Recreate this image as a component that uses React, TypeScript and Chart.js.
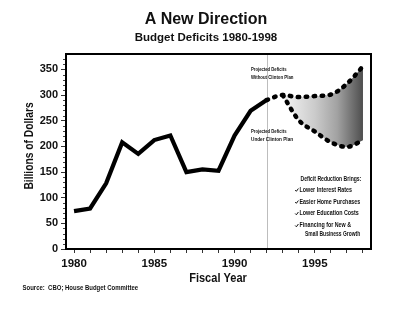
import React, { useEffect, useRef } from "react";
import { Chart, registerables } from "chart.js";

Chart.register(...registerables);

// Federal budget deficits, billions of dollars
const actualYears = [1980, 1981, 1982, 1983, 1984, 1985, 1986, 1987, 1988, 1989, 1990, 1991, 1992];
const actualDeficits = [73.8, 79.0, 128.0, 207.8, 185.4, 212.3, 221.2, 149.7, 155.2, 152.5, 221.0, 269.2, 290.4];

const withoutPlanYears = [1992, 1993, 1994, 1995, 1996, 1997, 1998];
const withoutPlanDeficits = [290.4, 300, 296, 298, 301, 322, 356];

const underPlanYears = [1993, 1994, 1995, 1996, 1997, 1998];
const underPlanDeficits = [300, 251, 229, 208, 199, 212];

const yTickValues = [0, 50, 100, 150, 200, 250, 300, 350];
const xTickYears = [1980, 1981, 1982, 1983, 1984, 1985, 1986, 1987, 1988, 1989, 1990, 1991, 1992, 1993, 1994, 1995, 1996, 1997, 1998];

const benefitsHeading = "Deficit Reduction Brings:";
const benefits = ["Lower Interest Rates", "Easier Home Purchases", "Lower Education Costs", "Financing for New &"];
const benefitsContinuation = "Small Business Growth";

const SANS = "Arial, 'Liberation Sans', Helvetica, sans-serif";

function drawText(
  ctx: CanvasRenderingContext2D,
  text: string,
  x: number,
  y: number,
  size: number,
  squeeze = 1,
  align: CanvasTextAlign = "left",
  rotate = 0
) {
  ctx.save();
  ctx.font = `bold ${size}px ${SANS}`;
  ctx.fillStyle = "#111";
  ctx.textBaseline = "middle";
  ctx.textAlign = align;
  ctx.translate(x, y);
  if (rotate) ctx.rotate(rotate);
  ctx.scale(squeeze, 1);
  ctx.fillText(text, 0, 0);
  ctx.restore();
}

const decorations = {
  id: "decorations",
  beforeDatasetsDraw(chart: any) {
    const { ctx, chartArea, scales } = chart;
    const x = scales.x.getPixelForValue(1992);
    ctx.save();
    ctx.strokeStyle = "#bdbdbd";
    ctx.lineWidth = 1;
    ctx.beginPath();
    ctx.moveTo(Math.round(x) + 0.5, chartArea.top);
    ctx.lineTo(Math.round(x) + 0.5, chartArea.bottom);
    ctx.stroke();
    ctx.restore();
  },
  afterDraw(chart: any) {
    const { ctx, chartArea, scales } = chart;
    const { left, top, right, bottom } = chartArea;

    // minor ticks on the value axis
    ctx.save();
    ctx.strokeStyle = "#444";
    ctx.lineWidth = 1;
    for (let v = 10; v <= 370; v += 10) {
      if (v % 50 === 0) continue;
      const y = Math.round(scales.y.getPixelForValue(v)) + 0.5;
      ctx.beginPath();
      ctx.moveTo(left - 3, y);
      ctx.lineTo(left, y);
      ctx.stroke();
    }
    ctx.restore();

    // plot frame
    ctx.save();
    ctx.strokeStyle = "#000";
    ctx.lineWidth = 2;
    ctx.strokeRect(left, top, right - left, bottom - top);
    ctx.restore();

    // headings
    drawText(ctx, "A New Direction", 206, 20, 16, 1, "center");
    drawText(ctx, "Budget Deficits 1980-1998", 206, 38, 11.5, 1, "center");

    // axis titles
    drawText(ctx, "Billions of Dollars", 29, 146, 13.5, 0.76, "center", -Math.PI / 2);
    drawText(ctx, "Fiscal Year", 218, 278, 13, 0.85, "center");

    // source note
    drawText(ctx, "Source:  CBO; House Budget Committee", 22.5, 288.5, 6.3, 0.95, "left");

    // projection labels
    drawText(ctx, "Projected Deficits", 251, 69, 6, 0.7);
    drawText(ctx, "Without Clinton Plan", 251, 77.5, 6, 0.72);
    drawText(ctx, "Projected Deficits", 251, 131.5, 6, 0.7);
    drawText(ctx, "Under Clinton Plan", 251, 139.5, 6, 0.78);

    // benefits list
    drawText(ctx, benefitsHeading, 300.5, 179, 6.5, 0.78);
    const rows = [190, 202, 213.5, 225.5];
    benefits.forEach((item, i) => {
      ctx.save();
      ctx.strokeStyle = "#111";
      ctx.lineWidth = 1;
      ctx.beginPath();
      ctx.moveTo(295.2, rows[i]);
      ctx.lineTo(296.4, rows[i] + 1.3);
      ctx.lineTo(298.4, rows[i] - 1.5);
      ctx.stroke();
      ctx.restore();
      drawText(ctx, item, 299.5, rows[i], 6.5, 0.82);
    });
    drawText(ctx, benefitsContinuation, 305, 234, 6.5, 0.76);
  },
};

export default function App() {
  const canvasRef = useRef<HTMLCanvasElement | null>(null);

  useEffect(() => {
    const canvas = canvasRef.current;
    if (!canvas) return;

    const shade = (context: any) => {
      const { chart } = context;
      const area = chart.chartArea;
      if (!area) return "#999";
      const x0 = chart.scales.x.getPixelForValue(1993.4);
      const x1 = chart.scales.x.getPixelForValue(1998);
      const g = chart.ctx.createLinearGradient(x0, 0, x1, 0);
      g.addColorStop(0, "#ececec");
      g.addColorStop(0.35, "#cbcbcb");
      g.addColorStop(0.65, "#a2a2a2");
      g.addColorStop(0.85, "#727272");
      g.addColorStop(1, "#4e4e4e");
      return g;
    };

    const chart = new Chart(canvas, {
      type: "line",
      data: {
        datasets: [
          {
            label: "Actual",
            data: actualYears.map((x, i) => ({ x, y: actualDeficits[i] })),
            borderColor: "#000",
            borderWidth: 4.2,
            borderJoinStyle: "miter",
            pointRadius: 0,
            fill: false,
            tension: 0,
          },
          {
            label: "Without Clinton Plan",
            data: withoutPlanYears.map((x, i) => ({ x, y: withoutPlanDeficits[i] })),
            borderColor: "#000",
            borderWidth: 4.5,
            borderDash: [1.5, 6.5],
            borderCapStyle: "round",
            pointRadius: 0,
            fill: false,
            cubicInterpolationMode: "monotone",
          },
          {
            label: "Under Clinton Plan",
            data: underPlanYears.map((x, i) => ({ x, y: underPlanDeficits[i] })),
            borderColor: "#000",
            borderWidth: 4.5,
            borderDash: [1.5, 6.5],
            borderCapStyle: "round",
            pointRadius: 0,
            fill: { target: 1 },
            backgroundColor: shade,
            cubicInterpolationMode: "monotone",
          },
        ],
      },
      options: {
        responsive: false,
        animation: false,
        devicePixelRatio: 1,
        layout: { padding: { top: 54, right: 29, left: 0, bottom: 0 } },
        plugins: {
          legend: { display: false },
          tooltip: { enabled: false },
          title: { display: false },
          filler: { drawTime: "beforeDatasetsDraw" },
        },
        scales: {
          x: {
            type: "linear",
            min: 1979.5,
            max: 1998.5,
            afterBuildTicks: (scale: any) => {
              scale.ticks = xTickYears.map((value) => ({ value }));
            },
            afterFit: (scale: any) => {
              scale.height = 60;
            },
            grid: { drawOnChartArea: false, drawTicks: true, tickLength: 4, color: "#333", lineWidth: 1 },
            border: { display: false },
            ticks: {
              autoSkip: false,
              maxRotation: 0,
              padding: 4,
              color: "#111",
              font: { family: SANS, size: 11.5, weight: "bold" },
              callback: (v: any) => (Number(v) % 5 === 0 ? String(v) : ""),
            },
          },
          y: {
            type: "linear",
            min: 0,
            max: 380,
            afterBuildTicks: (scale: any) => {
              scale.ticks = yTickValues.map((value) => ({ value }));
            },
            afterFit: (scale: any) => {
              scale.width = 66;
            },
            grid: { drawOnChartArea: false, drawTicks: true, tickLength: 5, color: "#333", lineWidth: 1 },
            border: { display: false },
            ticks: {
              padding: 3,
              color: "#111",
              font: { family: SANS, size: 11, weight: "bold" },
              callback: (v: any) => String(v),
            },
          },
        },
      },
      plugins: [decorations],
    } as any);

    return () => chart.destroy();
  }, []);

  return (
    <div style={{ position: "fixed", left: 0, top: 0, width: 400, height: 309, background: "#fff" }}>
      <canvas ref={canvasRef} width={400} height={309} style={{ display: "block", width: 400, height: 309 }} />
    </div>
  );
}
